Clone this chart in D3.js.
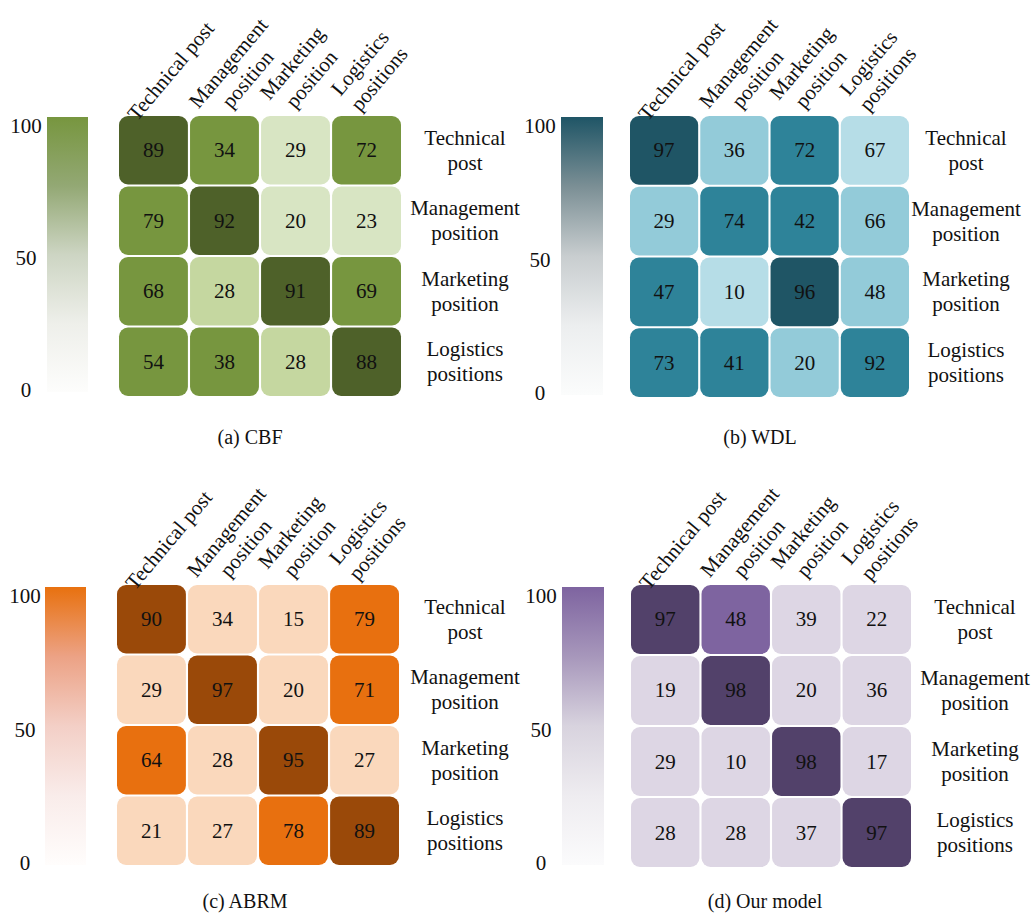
<!DOCTYPE html>
<html>
<head>
<meta charset="utf-8">
<script src="https://cdn.jsdelivr.net/npm/d3@7/dist/d3.min.js"></script>
<style>
  html, body { margin: 0; padding: 0; background: #ffffff; }
  svg { display: block; }
  text { font-family: "Liberation Serif", "Times New Roman", serif; fill: #111; }
</style>
</head>
<body>
<svg id="chart" width="1035" height="915"></svg>
<script>
// Job categories (rows and columns share the same set)
const rowLabels = [["Technical", "post"], ["Management", "position"], ["Marketing", "position"], ["Logistics", "positions"]];
const colLabels = [["Technical post"], ["Management", "position"], ["Marketing", "position"], ["Logistics", "positions"]];
const colorbarTicks = [0, 50, 100];

// Matching scores per model (row = true post, column = assigned post)
const cbfValues  = [[89, 34, 29, 72], [79, 92, 20, 23], [68, 28, 91, 69], [54, 38, 28, 88]];
const wdlValues  = [[97, 36, 72, 67], [29, 74, 42, 66], [47, 10, 96, 48], [73, 41, 20, 92]];
const abrmValues = [[90, 34, 15, 79], [29, 97, 20, 71], [64, 28, 95, 27], [21, 27, 78, 89]];
const oursValues = [[97, 48, 39, 22], [19, 98, 20, 36], [29, 10, 98, 17], [28, 28, 37, 97]];

// Shade level of each cell (0 = palest, 3 = darkest)
const cbfShades  = [[3, 2, 0, 2], [2, 3, 0, 0], [2, 1, 3, 2], [2, 2, 1, 3]];
const wdlShades  = [[3, 1, 2, 0], [1, 2, 2, 1], [2, 0, 3, 1], [2, 2, 1, 2]];
const abrmShades = [[3, 1, 1, 2], [1, 3, 1, 2], [2, 1, 3, 1], [1, 1, 2, 3]];
const oursShades = [[3, 2, 1, 1], [1, 3, 1, 1], [1, 1, 3, 1], [1, 1, 1, 3]];

const panels = [
  { caption: "(a) CBF", values: cbfValues, shades: cbfShades,
    palette: ["#d8e5c3", "#c5d7a0", "#77963f", "#4e6129"],
    ramp: ["#fdfdfc", "#eeefea", "#cdd5c3", "#93a874", "#77963f"],
    bar: { x: 47, y: 117, w: 41, h: 275 }, tickX: 26,
    grid: { x: 119, y: 116, w: 282, h: 280 }, labelX: 465, cap: { x: 250, y: 444 } },
  { caption: "(b) WDL", values: wdlValues, shades: wdlShades,
    palette: ["#b6dde7", "#93cbd9", "#2e8399", "#1f5565"],
    ramp: ["#fbfcfc", "#eceeef", "#c8cdcf", "#7b8f95", "#1f5566"],
    bar: { x: 561, y: 117, w: 42, h: 278 }, tickX: 540,
    grid: { x: 630, y: 116, w: 279, h: 281 }, labelX: 966, cap: { x: 760, y: 444 } },
  { caption: "(c) ABRM", values: abrmValues, shades: abrmShades,
    palette: ["#fad8bc", "#fad8bc", "#e8700f", "#9a4909"],
    ramp: ["#fffdfc", "#f9ecea", "#f3cfc6", "#eca285", "#e8710f"],
    bar: { x: 45, y: 587, w: 41, h: 278 }, tickX: 25,
    grid: { x: 117, y: 585, w: 282, h: 280 }, labelX: 465, cap: { x: 245, y: 908 } },
  { caption: "(d) Our model", values: oursValues, shades: oursShades,
    palette: ["#ddd6e4", "#ddd6e4", "#7e64a0", "#52416a"],
    ramp: ["#fbfbfc", "#eeecf0", "#d8d3de", "#a797bb", "#7e64a0"],
    bar: { x: 562, y: 587, w: 42, h: 278 }, tickX: 541,
    grid: { x: 631, y: 585, w: 280, h: 282 }, labelX: 975, cap: { x: 765, y: 908 } }
];

const svg = d3.select("#chart");
const defs = svg.append("defs");
const idx = d3.range(4);
const lineH = 25;
const angle = 50;
const cosA = Math.cos(angle * Math.PI / 180);

panels.forEach((p, pi) => {
  const g = svg.append("g");

  // Colour bar
  const gradId = "ramp" + pi;
  const grad = defs.append("linearGradient").attr("id", gradId)
    .attr("x1", 0).attr("y1", 1).attr("x2", 0).attr("y2", 0);
  grad.selectAll("stop").data(p.ramp).join("stop")
    .attr("offset", (d, i) => i / (p.ramp.length - 1))
    .attr("stop-color", d => d);
  g.append("rect")
    .attr("x", p.bar.x).attr("y", p.bar.y)
    .attr("width", p.bar.w).attr("height", p.bar.h)
    .attr("fill", `url(#${gradId})`);

  const yBar = d3.scaleLinear().domain([0, 100])
    .range([p.bar.y + p.bar.h - 2, p.bar.y + 9]);
  g.selectAll("text.tick").data(colorbarTicks).join("text")
    .attr("class", "tick")
    .attr("x", p.tickX).attr("y", d => yBar(d))
    .attr("text-anchor", "middle").attr("dominant-baseline", "central")
    .style("font-size", "21px")
    .text(d => d);

  // Heatmap cells
  const x = d3.scaleBand().domain(idx).range([p.grid.x, p.grid.x + p.grid.w]).paddingInner(0.03);
  const y = d3.scaleBand().domain(idx).range([p.grid.y, p.grid.y + p.grid.h]).paddingInner(0.03);
  const shade = d3.scaleOrdinal().domain([0, 1, 2, 3]).range(p.palette);

  const cells = [];
  p.values.forEach((row, r) => row.forEach((v, c) => cells.push({ r, c, v, s: p.shades[r][c] })));

  g.selectAll("rect.cell").data(cells).join("rect")
    .attr("class", "cell")
    .attr("x", d => x(d.c)).attr("y", d => y(d.r))
    .attr("width", x.bandwidth()).attr("height", y.bandwidth())
    .attr("rx", 9).attr("ry", 9)
    .attr("fill", d => shade(d.s));

  g.selectAll("text.val").data(cells).join("text")
    .attr("class", "val")
    .attr("x", d => x(d.c) + x.bandwidth() / 2)
    .attr("y", d => y(d.r) + y.bandwidth() / 2)
    .attr("text-anchor", "middle").attr("dominant-baseline", "central")
    .style("font-size", "21px")
    .text(d => d.v);

  // Row labels on the right
  rowLabels.forEach((lines, r) => {
    const t = g.append("text")
      .attr("text-anchor", "middle")
      .attr("dominant-baseline", "central")
      .style("font-size", "21px");
    lines.forEach((ln, i) => {
      t.append("tspan")
        .attr("x", p.labelX)
        .attr("y", y(r) + y.bandwidth() / 2 + (i - (lines.length - 1) / 2) * lineH)
        .text(ln);
    });
  });

  // Slanted column labels above the grid; the block starts near the column
  // centre, so longer labels reach further to the right
  colLabels.forEach((lines, c) => {
    const t = g.append("text")
      .attr("text-anchor", "middle")
      .attr("dominant-baseline", "central")
      .style("font-size", "21px");
    lines.forEach((ln, i) => {
      t.append("tspan")
        .attr("x", 0)
        .attr("y", (i - (lines.length - 1) / 2) * lineH)
        .text(ln);
    });
    const w = d3.max(t.selectAll("tspan").nodes(), n => n.getComputedTextLength());
    const cx = x(c) + x.bandwidth() / 2 + 3 + (w - 77) * cosA / 2;
    const cy = p.grid.y - 45;
    t.attr("transform", `translate(${cx},${cy}) rotate(${-angle})`);
  });

  // Caption
  g.append("text")
    .attr("x", p.cap.x).attr("y", p.cap.y)
    .attr("text-anchor", "middle")
    .style("font-size", "20px")
    .text(p.caption);
});
</script>
</body>
</html>
